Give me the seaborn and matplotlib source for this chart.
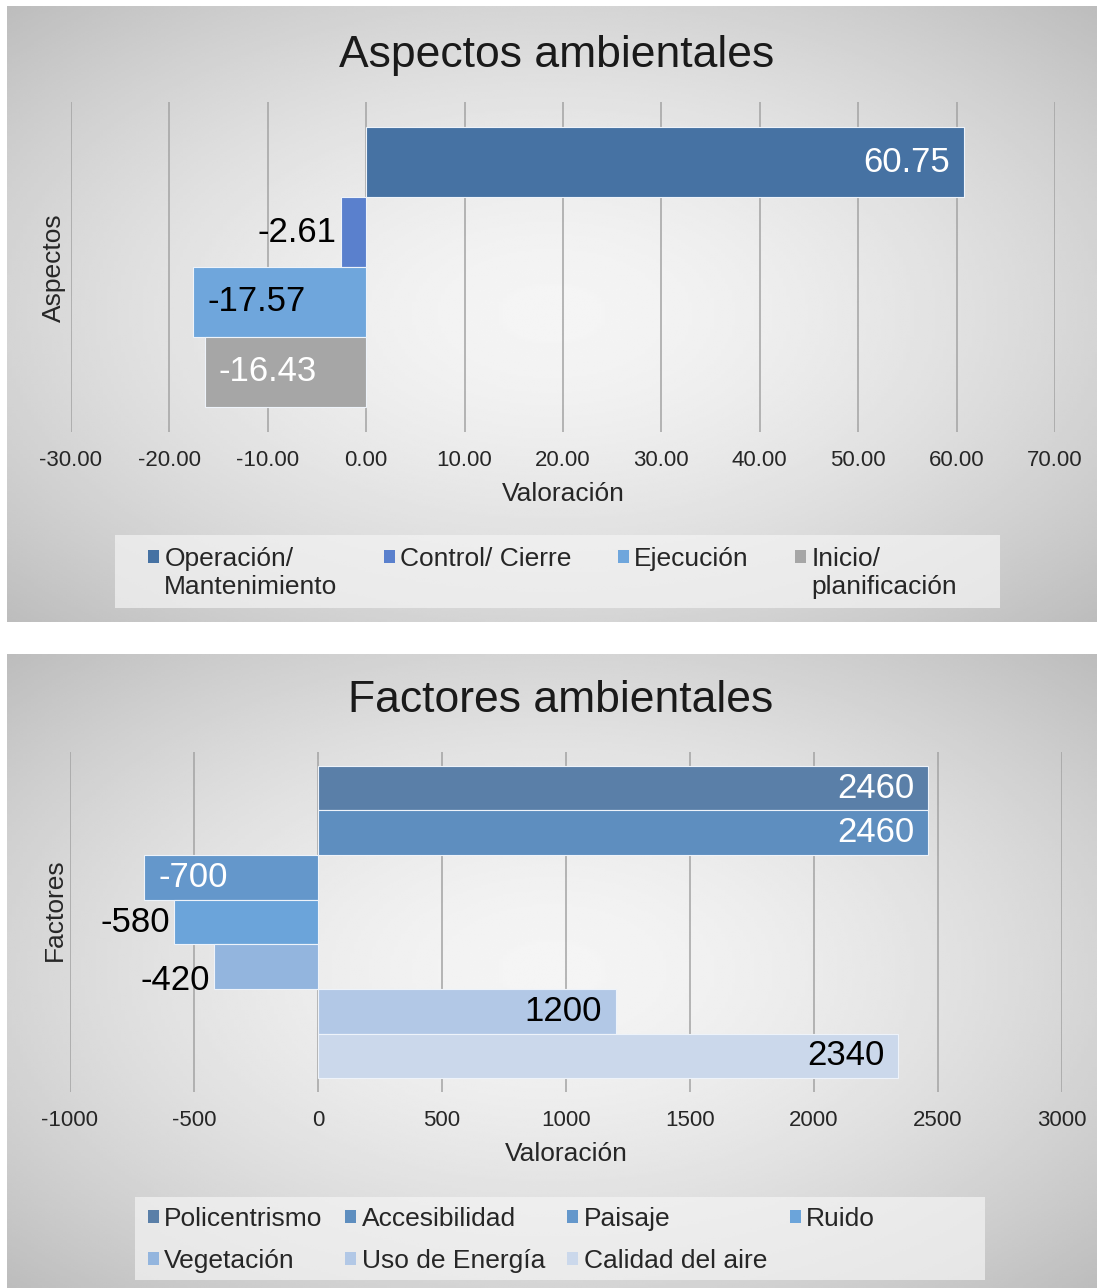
import numpy as np
import pandas as pd
import seaborn as sns
import matplotlib.pyplot as plt
from matplotlib.patches import Patch, Rectangle

# --- DATA ---
aspectos = ["Operación/ Mantenimiento", "Control/ Cierre", "Ejecución", "Inicio/ planificación"]
aspectos_leyenda = ["Operación/\nMantenimiento", "Control/ Cierre\n", "Ejecución\n", "Inicio/\nplanificación"]
aspectos_valor = [60.75, -2.61, -17.57, -16.43]
aspectos_ticks = [-30, -20, -10, 0, 10, 20, 30, 40, 50, 60, 70]

factores = ["Policentrismo", "Accesibilidad", "Paisaje", "Ruido",
            "Vegetación", "Uso de Energía", "Calidad del aire"]
factores_valor = [2460, 2460, -700, -580, -420, 1200, 2340]
factores_ticks = [-1000, -500, 0, 500, 1000, 1500, 2000, 2500, 3000]

# --- STYLE ---
aspectos_colores = ["#4672A3", "#5A80CD", "#6FA6DC", "#A6A6A6"]
factores_colores = ["#5A7FA8", "#5E8EBF", "#6497CB", "#6BA4DA", "#93B5DE", "#B2C8E6", "#CBD8EB"]
# (label colour, inside/outside, vertical shift in points)
aspectos_etiq = [("white", "in", 0), ("black", "out", 0), ("black", "in", 0), ("white", "in", 0)]
factores_etiq = [("white", "in", 0), ("white", "in", 0), ("white", "in", 0),
                 ("black", "out", 0), ("black", "out", -10), ("black", "in", 0), ("black", "in", 0)]

sns.set_theme(style="white")
plt.rcParams["font.family"] = ["Liberation Sans", "DejaVu Sans"]

W, H = 1105, 1288
fig = plt.figure(figsize=(W / 100, H / 100), dpi=100, facecolor="white")


def px_rect(x0, y0, x1, y1):
    return [x0 / W, 1 - y1 / H, (x1 - x0) / W, (y1 - y0) / H]


def panel_background(x0, y0, x1, y1):
    # radial grey gradient like the Excel chart area
    bg = fig.add_axes(px_rect(x0, y0, x1, y1), zorder=0)
    yy, xx = np.mgrid[-1:1:300j, -1:1:300j]
    r = np.clip(np.sqrt(xx ** 2 + yy ** 2) / np.sqrt(2), 0, 1)
    img = 0.96 - 0.22 * r ** 1.6
    bg.imshow(img, cmap="gray", vmin=0, vmax=1, aspect="auto", interpolation="bilinear")
    bg.set_axis_off()


def legend_box(ax, handles, labels, x0, y0, x1, y1, hx, hy, colspace, labelspace, lift):
    fig.patches.append(Rectangle((x0 / W, 1 - y1 / H), (x1 - x0) / W, (y1 - y0) / H,
                                 transform=fig.transFigure, facecolor="#F4F4F4",
                                 edgecolor="none", alpha=0.7, zorder=1))
    leg = ax.legend(handles, labels, loc="center left", ncol=4,
                    bbox_to_anchor=(hx / W, 1 - hy / H), bbox_transform=fig.transFigure,
                    fontsize=19, frameon=False, handlelength=0.42, handleheight=0.42,
                    handletextpad=0.2, borderpad=0, borderaxespad=0,
                    columnspacing=colspace, labelspacing=labelspace)
    for t in leg.get_texts():
        t.set_color("#262626")
    # Excel puts the marker next to the first text line
    for p in leg.legend_handles:
        p.set_y(p.get_y() + lift)
    return leg


def draw_chart(ax, nombres, valores, colores, etiquetas, ticks, fmt, ylim, ylabel):
    df = pd.DataFrame({"nombre": nombres, "valor": valores})
    sns.barplot(data=df, x="valor", y="nombre", hue="nombre", palette=colores,
                orient="h", width=1.0, saturation=1, edgecolor="#EEF3FA",
                linewidth=0.8, legend=False, ax=ax)
    ax.set_facecolor("none")
    ax.set_xlim(ticks[0], ticks[-1])
    ax.set_ylim(*ylim)
    ax.set_xticks(ticks)
    ax.set_xticklabels([fmt.format(t) for t in ticks])
    ax.set_yticks([])
    ax.grid(axis="x", color="#A3A3A3", lw=1.1)
    ax.grid(axis="y", visible=False)
    ax.set_axisbelow(True)
    for s in ax.spines.values():
        s.set_visible(False)
    ax.tick_params(axis="x", length=0, pad=13, labelsize=16, colors="#262626")
    ax.set_xlabel("Valoración", fontsize=19, color="#262626", labelpad=8)
    ax.set_ylabel(ylabel, fontsize=19, color="#262626")

    for i, (v, (col, pos, dy)) in enumerate(zip(valores, etiquetas)):
        txt = fmt.format(v) if isinstance(v, int) else f"{v:.2f}"
        if pos == "in":
            dx = -10 if v > 0 else 10
        else:
            dx = 3 if v > 0 else -3
        ha = "right" if dx < 0 else "left"
        ax.annotate(txt, xy=(v, i), xytext=(dx, dy), textcoords="offset points",
                    ha=ha, va="center", fontsize=25, color=col)


# --- TOP CHART ---
panel_background(7, 6, 1097, 622)
ax1 = fig.add_axes(px_rect(71, 102, 1055, 432), zorder=2)
draw_chart(ax1, aspectos, aspectos_valor, aspectos_colores, aspectos_etiq,
           aspectos_ticks, "{:.2f}", (3.86, -0.86), "Aspectos")
ax1.yaxis.set_label_coords(-0.005, 0.497)
fig.text(557 / W, 1 - 55 / H, "Aspectos ambientales", ha="center", va="center",
         fontsize=32, color="#1a1a1a")
h1 = [Patch(facecolor=c, edgecolor="none") for c in aspectos_colores]
legend_box(ax1, h1, aspectos_leyenda, 115, 535, 1000, 608, 148, 573,
           colspace=1.75, labelspace=0.5, lift=12)

# --- BOTTOM CHART ---
panel_background(7, 654, 1097, 1288)
ax2 = fig.add_axes(px_rect(70, 752, 1062, 1092), zorder=2)
draw_chart(ax2, factores, factores_valor, factores_colores, factores_etiq,
           factores_ticks, "{:d}", (6.81, -0.81), "Factores")
ax2.yaxis.set_label_coords(-0.003, 0.535)
fig.text(561 / W, 1 - 701 / H, "Factores ambientales", ha="center", va="center",
         fontsize=32, color="#1a1a1a")
# legend is filled column by column; reorder so that it reads row by row
orden = [0, 4, 1, 5, 2, 6, 3]
h2 = [Patch(facecolor=factores_colores[k], edgecolor="none") for k in orden]
legend_box(ax2, h2, [factores[k] for k in orden], 135, 1197, 985, 1280, 148, 1240,
           colspace=0.85, labelspace=0.68, lift=0)

fig.savefig("out.png", dpi=100, facecolor="white")
